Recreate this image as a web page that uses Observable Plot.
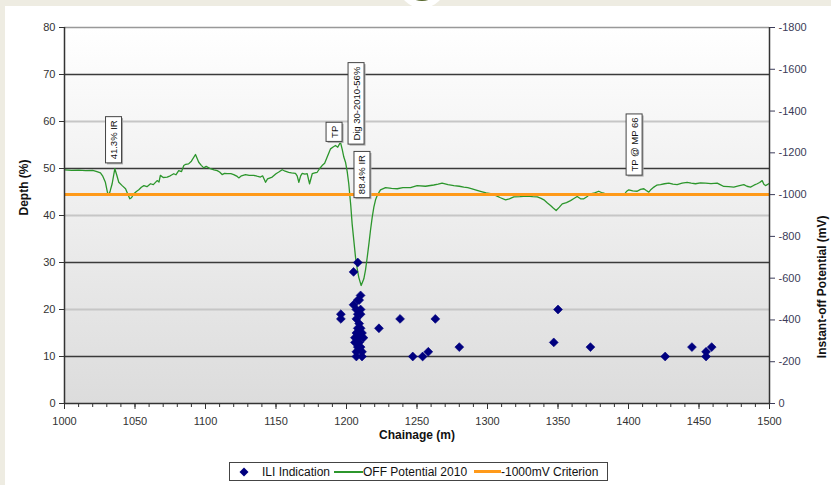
<!DOCTYPE html>
<html><head><meta charset="utf-8">
<script src="https://cdn.jsdelivr.net/npm/d3@7"></script>
<script src="https://cdn.jsdelivr.net/npm/@observablehq/plot@0.6"></script>
<style>
html,body{margin:0;padding:0;}
body{width:831px;height:485px;background:#eeece2;position:relative;overflow:hidden;font-family:"Liberation Sans",Arial,sans-serif;}
#card{position:absolute;left:5px;top:6px;right:0;bottom:0;background:#fff;}
#knob{position:absolute;left:398px;top:-40px;width:48px;height:48px;border-radius:50%;background:#fff;}
#knob2{position:absolute;left:403px;top:-37px;width:38px;height:38px;border-radius:50%;border:2px solid #55662a;box-sizing:border-box;}
#wrap{position:relative;z-index:1;}
#chart svg{display:block;}
#legend{position:relative;margin-top:7px;margin-left:229px;width:377px;height:17px;border:1px solid #444;background:#fff;font-size:12px;color:#111;}
#legend .t{position:absolute;top:2px;white-space:nowrap;}
#legend .ln{position:absolute;}
</style>
</head><body>
<div id="card"></div>
<div id="knob"></div><div id="knob2"></div>
<div id="wrap">
  <div id="chart"></div>
  <div id="legend">
    <svg style="position:absolute;left:9px;top:4px" width="10" height="10"><path d="M5,0.5L9.5,5L5,9.5L0.5,5Z" fill="#00007f"/></svg>
    <span class="t" style="left:32px">ILI Indication</span>
    <span class="ln" style="left:104px;top:8px;width:29px;height:2px;background:#2c962c"></span>
    <span class="t" style="left:133px">OFF Potential 2010</span>
    <span class="ln" style="left:244px;top:7px;width:27px;height:3px;background:#ff9a1a"></span>
    <span class="t" style="left:271px">-1000mV Criterion</span>
  </div>
</div>
<script>
// OFF Potential 2010 (chainage m, potential mV)
const potChainage = [1000,1005,1010,1015,1020,1023,1025.5,1027,1029,1030.5,1031.4,1032.5,1033.8,1035.7,1037,1038.5,1040.9,1043.3,1045,1046.3,1047.5,1049.2,1051,1052.7,1054.5,1056.3,1058.5,1061,1063,1065.7,1067,1068,1070,1072.8,1075,1077.5,1079,1081,1083,1084.6,1086,1088,1090,1092.9,1095.2,1097,1098.8,1100.5,1103.5,1106,1108.3,1110,1111.8,1113.5,1115.4,1118,1120,1122.5,1123.6,1125.5,1128.4,1131,1134.3,1136.5,1139,1140.5,1142.6,1144,1147.3,1150,1152,1154.4,1156.5,1159,1161,1163.8,1165,1166.2,1167.5,1168.6,1170.5,1172.1,1173.8,1175.7,1177.5,1179.2,1181,1182.7,1184.5,1186.3,1188.7,1190.5,1192.2,1193.8,1195.7,1197,1198.1,1199.3,1200.5,1201.6,1203,1204,1205.2,1206.4,1207.6,1208.7,1210.4,1212.3,1213.5,1214.7,1216,1217,1218.2,1219.4,1220.6,1221.8,1224.1,1227.7,1232,1236,1240,1245.4,1250.1,1256,1261.9,1265,1267.8,1272,1276.1,1280,1283.2,1286,1289.1,1292,1295,1299,1303.3,1306,1309.2,1312.8,1315.5,1318.7,1323,1328.2,1332,1335.3,1338,1340,1342.5,1344.7,1346.8,1348.7,1351,1353,1356,1358.9,1361,1363.6,1366,1368.3,1370.5,1373,1376,1378.9,1380.8,1382.5,1384.9,1387,1389.6,1393,1396.7,1398.5,1400.2,1403,1406.2,1408.5,1410.9,1412.6,1414.4,1416,1418,1420,1422.7,1425.5,1428.6,1431.5,1434.5,1438,1441.6,1444.5,1447.5,1451,1454.6,1458.5,1462.9,1465,1467.6,1471,1474.7,1478,1481.8,1484,1486.5,1489,1491.3,1493,1494.8,1496,1497.2,1499.5];
const potValue = [-1118,-1116,-1117,-1115,-1116,-1110,-1104,-1090,-1059,-1010,-996,-1020,-1052,-1124,-1095,-1059,-1043,-1028,-1000,-980,-985,-1004,-1015,-1023,-1035,-1043,-1038,-1052,-1048,-1067,-1060,-1092,-1082,-1084,-1090,-1100,-1095,-1115,-1110,-1139,-1145,-1147,-1160,-1192,-1155,-1140,-1128,-1135,-1124,-1118,-1115,-1108,-1096,-1102,-1100,-1100,-1096,-1087,-1080,-1090,-1096,-1092,-1092,-1088,-1084,-1090,-1059,-1075,-1084,-1100,-1108,-1119,-1112,-1107,-1104,-1102,-1090,-1059,-1090,-1102,-1098,-1100,-1052,-1100,-1104,-1107,-1125,-1139,-1150,-1180,-1219,-1228,-1235,-1227,-1251,-1215,-1180,-1155,-1110,-1052,-950,-860,-780,-700,-645,-604,-565,-597,-640,-700,-770,-828,-890,-940,-975,-996,-1023,-1033,-1030,-1028,-1033,-1033,-1043,-1040,-1046,-1050,-1055,-1048,-1043,-1040,-1036,-1033,-1028,-1022,-1016,-1008,-1004,-995,-985,-975,-980,-989,-990,-993,-990,-989,-982,-975,-960,-948,-935,-924,-940,-956,-962,-971,-980,-991,-980,-980,-990,-1004,-1008,-1016,-1010,-1007,-996,-1005,-1004,-1002,-996,-1015,-1023,-1018,-1016,-1025,-1028,-1020,-1012,-1025,-1036,-1045,-1048,-1052,-1055,-1050,-1048,-1055,-1059,-1055,-1052,-1056,-1055,-1053,-1055,-1048,-1039,-1038,-1036,-1042,-1048,-1040,-1036,-1045,-1052,-1058,-1067,-1050,-1043,-1052];

// ILI Indication (chainage m, depth %)
const iliChainage = [1208,1205,1196,1196,1210,1208,1209,1205,1207,1210,1208,1210,1207,1209,1208,1210,1207,1209,1211,1206,1209,1212,1206,1209,1208,1210,1207,1211,1207,1211,1223,1238,1247,1254,1258,1263,1280,1347,1350,1373,1426,1445,1455,1455,1459];
const iliDepth    = [30,28,19,18,23,22,22,21,20,20,19,19,18,17,16,16,15,15,15,14,14,14,13,13,12,12,11,11,10,10,16,18,10,10,11,18,12,13,20,12,10,12,11,10,12];

// Callout labels
const annotText = ["41.3% IR","TP","Dig 30-2010-56%","88.4% IR","TP @ MP 66"];
const annotChainage = [1035.1,1191.5,1207.1,1211.3,1404.3];
const annotDepth = [56.1,57.8,63.8,48.7,55.1];

const xDomain = [1000,1500];
const yDomain = [0,80];
const xTicks = [1000,1050,1100,1150,1200,1250,1300,1350,1400,1450,1500];
const xMinorTicks = d3.range(1000,1501,10);
const leftTicks = [0,10,20,30,40,50,60,70,80];
const rightTicks = [0,-200,-400,-600,-800,-1000,-1200,-1400,-1600,-1800];
const rightMax = -1800;
const criterion = -1000;
const darkGrid = [10,30,50,70];
const lightGrid = [20,40,60];

const toDepth = mv => mv / rightMax * yDomain[1];
const pot = potChainage.map((c,i)=>({c, d: toDepth(potValue[i])}));
const ili = iliChainage.map((c,i)=>({c, d: iliDepth[i]}));
const ann = annotText.map((t,i)=>({t, c: annotChainage[i], d: annotDepth[i]}));
const rightMap = new Map(rightTicks.map(v => [toDepth(v), v]));

const plot = Plot.plot({
  width: 831, height: 455,
  marginLeft: 64, marginRight: 62, marginTop: 27, marginBottom: 52,
  x: {domain: xDomain},
  y: {domain: yDomain},
  style: {fontFamily: "Liberation Sans, Arial, sans-serif", fontSize: "11px", background: "transparent", overflow: "visible"},
  marks: [
    Plot.frame({fill: "#eeeeee", stroke: "none"}),
    Plot.ruleY(lightGrid, {stroke: "#c6c6c6", strokeWidth: 2}),
    Plot.ruleY([yDomain[1]], {stroke: "#999", strokeWidth: 1.5}),
    Plot.ruleY(darkGrid, {stroke: "#3a3a3a", strokeWidth: 1.5}),
    Plot.line(pot, {x: "c", y: "d", stroke: "#2c962c", strokeWidth: 1.3}),
    Plot.ruleY([toDepth(criterion)], {stroke: "#ff9a1a", strokeWidth: 3}),
    Plot.dot(ili, {x: "c", y: "d", symbol: "diamond2", r: 4, fill: "#00007f", stroke: "#00007f", strokeWidth: 0.6}),
    Plot.ruleX([xDomain[0]], {stroke: "#333", strokeWidth: 1.5}),
    Plot.ruleX([xDomain[1]], {stroke: "#333", strokeWidth: 1.5}),
    Plot.ruleY([yDomain[0]], {stroke: "#333", strokeWidth: 1.5}),
    Plot.axisX(xMinorTicks, {tickSize: 4, tickFormat: () => "", label: null, color: "#333"}),
    Plot.axisX(xTicks, {tickSize: 6, tickPadding: 8, label: null, color: "#333", tickFormat: d => String(d)}),
    Plot.axisY(leftTicks, {anchor: "left", tickSize: 5, tickPadding: 4, label: null, color: "#333", tickFormat: d => String(d)}),
    Plot.axisY(rightTicks.map(toDepth), {anchor: "right", tickSize: 5, tickPadding: 4, label: null, color: "#3b3b58", tickFormat: d => String(rightMap.get(d) ?? "")}),
    Plot.text(["Depth (%)"], {frameAnchor: "left", dx: -40, rotate: -90, fontWeight: "bold", fontSize: 12, fill: "#111"}),
    Plot.text(["Chainage (m)"], {frameAnchor: "bottom", dy: 35, fontWeight: "bold", fontSize: 12, fill: "#111"}),
    Plot.text(["Instant-off Potential (mV)"], {frameAnchor: "right", dx: 53, rotate: -90, fontWeight: "bold", fontSize: 12, fill: "#111"}),
    Plot.text(ann, {x: "c", y: "d", text: "t", rotate: -90, fontSize: 9.5, fill: "#111"})
  ]
});
document.getElementById("chart").append(plot);
const svg = plot.tagName.toLowerCase() === "svg" ? plot : plot.querySelector("svg");

// gradient background of plot area
const ns = "http://www.w3.org/2000/svg";
const defs = document.createElementNS(ns, "defs");
defs.innerHTML = '<linearGradient id="bgGrad" x1="0" y1="0" x2="0" y2="1"><stop offset="0" stop-color="#ffffff"/><stop offset="1" stop-color="#dcdcdc"/></linearGradient>';
svg.insertBefore(defs, svg.firstChild);
const fr = svg.querySelector('[aria-label="frame"]');
if (fr) {
  const rs = fr.tagName.toLowerCase() === "rect" ? [fr] : fr.querySelectorAll("rect");
  rs.forEach(r => r.setAttribute("fill", "url(#bgGrad)"));
}
// boxes behind callouts
const annSet = new Set(annotText);
Array.from(svg.querySelectorAll("text")).filter(t => annSet.has(t.textContent)).forEach(t => {
  const b = t.getBBox();
  const tr = t.getAttribute("transform") || "";
  const mk = (dx, dy, fill, stroke) => {
    const r = document.createElementNS(ns, "rect");
    r.setAttribute("x", b.x - 3.5 + dx);
    r.setAttribute("y", b.y - 2.5 + dy);
    r.setAttribute("width", b.width + 7);
    r.setAttribute("height", b.height + 5);
    if (tr) r.setAttribute("transform", tr);
    r.setAttribute("fill", fill);
    r.setAttribute("stroke", stroke);
    r.setAttribute("stroke-width", 1);
    return r;
  };
  t.parentNode.insertBefore(mk(-1.5, 1.5, "#aaa", "none"), t);
  t.parentNode.insertBefore(mk(0, 0, "#fff", "#444"), t);
});
</script>
</body></html>
